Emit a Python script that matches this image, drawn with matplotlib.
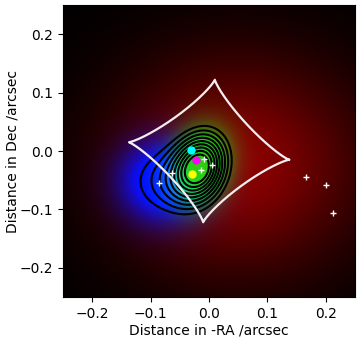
import numpy as np
import matplotlib
matplotlib.use("Agg")
import matplotlib.pyplot as plt

# caustic: centre and the two half-axis vectors (data coords, arcsec)
caustic_centre = [0.0, 0.0]
caustic_axis_a = [0.137, -0.015]
caustic_axis_b = [0.010, 0.122]

# light components: centre x, centre y, sigma major, sigma minor, angle deg, peak
red_comp = [0.05, -0.025, 0.15, 0.13, 0.0, 0.55]
green_comp = [-0.016, -0.027, 0.042, 0.031, 72.0, 1.0]
blue_comp = [-0.078, -0.052, 0.05, 0.047, 0.0, 1.0]

# image positions
cyan_pt = [-0.030, 0.002]
magenta_pt = [-0.023, -0.015]
yellow_pt = [-0.029, -0.040]

plus_x = [-0.008, 0.005, -0.014, -0.064, -0.085, 0.166, 0.201, 0.213]
plus_y = [-0.014, -0.024, -0.032, -0.038, -0.054, -0.045, -0.059, -0.107]

contour_levels = [0.25, 0.34, 0.43, 0.52, 0.61, 0.70, 0.79, 0.88, 0.97]


def gauss(X, Y, comp):
    x0, y0, s1, s2, ang, amp = comp
    t = np.radians(ang)
    dx = X - x0
    dy = Y - y0
    u = dx * np.cos(t) + dy * np.sin(t)
    v = -dx * np.sin(t) + dy * np.cos(t)
    return amp * np.exp(-0.5 * (u**2 / s1**2 + v**2 / s2**2))


xs = np.linspace(-0.25, 0.25, 500)
ys = np.linspace(-0.25, 0.25, 500)
X, Y = np.meshgrid(xs, ys)

R0 = gauss(X, Y, red_comp)
G0 = gauss(X, Y, green_comp)
B0 = gauss(X, Y, blue_comp)
R = R0 * np.clip(1 - 1.5 * G0 - 1.3 * B0, 0, 1) + 0.18 * G0
G = np.clip(1.5 * G0, 0, 0.78) + 0.08 * B0
B = 1.5 * B0 * np.clip(1 - 1.1 * G0, 0, 1) + 0.08 * G0
rgb = np.clip(np.dstack([R, G, B]), 0, 1)

fig = plt.figure(figsize=(3.58, 3.38), dpi=100)
ax = fig.add_axes([0.176, 0.1213, 0.8156, 0.8639])
ax.imshow(rgb, origin="lower", extent=[-0.25, 0.25, -0.25, 0.25])

Z = G0 + 0.33 * B0
ax.contour(X, Y, Z, levels=contour_levels, colors="black", linewidths=1.5)

# caustic curve
t = np.linspace(0, 2 * np.pi, 600)
p = 2.4
ca = np.sign(np.cos(t)) * np.abs(np.cos(t)) ** p
sb = np.sign(np.sin(t)) * np.abs(np.sin(t)) ** p
cx = caustic_centre[0] + ca * caustic_axis_a[0] + sb * caustic_axis_b[0]
cy = caustic_centre[1] + ca * caustic_axis_a[1] + sb * caustic_axis_b[1]
ax.plot(cx, cy, color="#f4eef0", lw=1.6)

ax.plot(plus_x, plus_y, "+", color="white", ms=5, mew=1)
ax.plot(*cyan_pt, "o", color="cyan", ms=5)
ax.plot(*magenta_pt, "o", color="magenta", ms=5)
ax.plot(*yellow_pt, "o", color="yellow", ms=5)

ax.set_xlim(-0.25, 0.25)
ax.set_ylim(-0.25, 0.25)
ax.set_xticks([-0.2, -0.1, 0.0, 0.1, 0.2])
ax.set_yticks([-0.2, -0.1, 0.0, 0.1, 0.2])
ax.set_xlabel("Distance in -RA /arcsec", labelpad=2)
ax.set_ylabel("Distance in Dec /arcsec", labelpad=0)

fig.savefig("out.png", dpi=100)
